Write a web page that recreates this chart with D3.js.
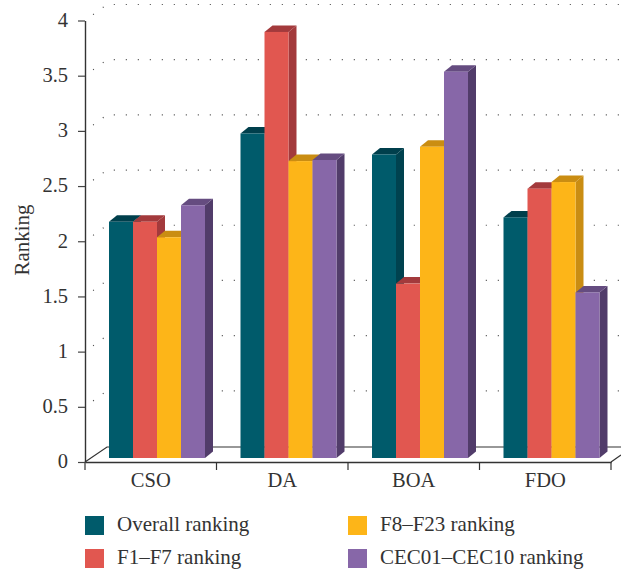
<!DOCTYPE html>
<html>
<head>
<meta charset="utf-8">
<script src="https://cdn.jsdelivr.net/npm/d3@7"></script>
<style>
  html, body { margin: 0; padding: 0; background: #fff; }
  svg { display: block; }
  text { font-family: "Liberation Serif", serif; fill: #333; }
</style>
</head>
<body>
<svg id="chart" width="621" height="571"></svg>
<script>
const categories = ["CSO", "DA", "BOA", "FDO"];
const seriesNames = ["Overall ranking", "F1\u2013F7 ranking", "F8\u2013F23 ranking", "CEC01\u2013CEC10 ranking"];
const overall = [2.14, 2.94, 2.75, 2.18];
const f1f7 = [2.14, 3.86, 1.58, 2.44];
const f8f23 = [2.0, 2.69, 2.82, 2.5];
const cec = [2.29, 2.7, 3.5, 1.5];
const yTicks = [0, 0.5, 1, 1.5, 2, 2.5, 3, 3.5, 4];

const seriesValues = [overall, f1f7, f8f23, cec];
const front = ["#005b6b", "#e15750", "#fdb518", "#8767a8"];
const topFace = ["#003f4c", "#a33a3c", "#ca8d12", "#654c80"];
const sideFace = ["#00424f", "#a33a3c", "#ca8d12", "#513c6a"];

const svg = d3.select("#chart");

const xScale = d3.scaleBand().domain(categories).range([85, 611]);
const innerX = d3.scaleBand().domain(d3.range(4)).range([24, 120]);
const yScale = d3.scaleLinear().domain([0, 4]).range([462, 20.5]);

// depth of the fake 3D
const wallDx = 22, wallDy = 16;
const barDx = 8, barDy = 6.5, barLift = 4;

// back wall grid
const grid = svg.append("g");
yTicks.filter(d => d > 0).forEach(t => {
  const y = yScale(t);
  grid.append("path")
    .attr("d", `M${85},${y}L${85 + wallDx},${y - wallDy}L621,${y - wallDy}`)
    .attr("fill", "none")
    .attr("stroke", "#444")
    .attr("stroke-width", 1.2)
    .attr("stroke-dasharray", "1 11")
    .attr("stroke-dashoffset", -10);
});

// floor
svg.append("path")
  .attr("d", `M85,462L${85 + wallDx},${462 - wallDy + 1}L621,${462 - wallDy + 1}`)
  .attr("fill", "none")
  .attr("stroke", "#333")
  .attr("stroke-width", 1.2);
svg.append("path")
  .attr("d", `M611,462L621,${462 - 7}`)
  .attr("fill", "none")
  .attr("stroke", "#333")
  .attr("stroke-width", 1.2);

// x axis
const xAxis = svg.append("g")
  .attr("transform", "translate(0,462)")
  .call(d3.axisBottom(xScale).tickSize(0).tickPadding(10));
xAxis.select(".domain").attr("stroke", "#333").attr("stroke-width", 1.4);
xAxis.selectAll("text")
  .attr("font-size", 20.5)
  .style("font-family", '"Liberation Serif", serif');
xAxis.selectAll(".tickMark")
  .data(categories.map(c => xScale(c)).concat([611]))
  .enter()
  .append("line")
  .attr("x1", d => d)
  .attr("x2", d => d)
  .attr("y1", 0)
  .attr("y2", 8)
  .attr("stroke", "#333")
  .attr("stroke-width", 1.2);

// y axis
const yAxis = svg.append("g")
  .attr("transform", "translate(85,0)")
  .call(d3.axisLeft(yScale).tickValues(yTicks).tickFormat(d => d).tickSize(7).tickSizeOuter(0).tickPadding(10));
yAxis.select(".domain").attr("stroke", "#333").attr("stroke-width", 1.4);
yAxis.selectAll("line").attr("stroke", "#444").attr("stroke-width", 1.2);
yAxis.selectAll("text")
  .attr("font-size", 20.5)
  .attr("dy", "0.28em")
  .style("font-family", '"Liberation Serif", serif');

svg.append("text")
  .attr("transform", "translate(29,240) rotate(-90)")
  .attr("text-anchor", "middle")
  .attr("font-size", 21)
  .text("Ranking");

// bars, back to front from left to right
categories.forEach((cat, c) => {
  const g = svg.append("g");
  seriesValues.forEach((vals, s) => {
    const x0 = xScale(cat) + innerX(s);
    const w = innerX.bandwidth();
    const yTop = yScale(vals[c]) - barLift;
    const yBase = yScale(0) - barLift;
    g.append("path")
      .attr("d", `M${x0 + w},${yTop}L${x0 + w + barDx},${yTop - barDy}L${x0 + w + barDx},${yBase - barDy}L${x0 + w},${yBase}Z`)
      .attr("fill", sideFace[s]);
    g.append("path")
      .attr("d", `M${x0},${yTop}L${x0 + barDx},${yTop - barDy}L${x0 + w + barDx},${yTop - barDy}L${x0 + w},${yTop}Z`)
      .attr("fill", topFace[s]);
    g.append("rect")
      .attr("x", x0)
      .attr("y", yTop)
      .attr("width", w)
      .attr("height", yBase - yTop)
      .attr("fill", front[s]);
  });
});

// legend
const legendX = d3.scalePoint().domain([0, 1]).range([85, 348]);
const legendY = d3.scalePoint().domain([0, 1]).range([516, 549]);
seriesNames.forEach((name, i) => {
  const col = i < 2 ? 0 : 1;
  const row = i % 2;
  svg.append("rect")
    .attr("x", legendX(col))
    .attr("y", legendY(row))
    .attr("width", 19)
    .attr("height", 19)
    .attr("fill", front[i]);
  svg.append("text")
    .attr("x", legendX(col) + 32)
    .attr("y", legendY(row) + 15)
    .attr("font-size", 21)
    .text(name);
});
</script>
</body>
</html>
